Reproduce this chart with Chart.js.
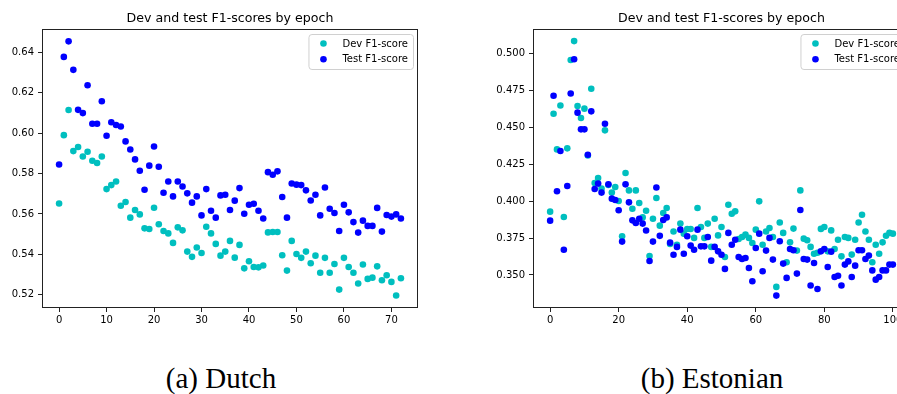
<!DOCTYPE html>
<html>
<head>
<meta charset="utf-8">
<script src="https://cdn.jsdelivr.net/npm/chart.js@4.4.1/dist/chart.umd.min.js"></script>
<style>
html, body { margin: 0; padding: 0; width: 897px; height: 394px; overflow: hidden; background: #fff; }
#c1 { position: absolute; left: 0; top: 0; }
#c2 { position: absolute; left: 490px; top: 0; }
.cap { position: absolute; font-family: "Liberation Serif", "DejaVu Serif", serif; font-size: 29px; line-height: 29px; color: #000; white-space: nowrap; transform: translateX(-50%); }
</style>
</head>
<body>
<canvas id="c1" width="430" height="330" style="width:430px;height:330px"></canvas>
<canvas id="c2" width="440" height="330" style="width:440px;height:330px"></canvas>
<div class="cap" style="left:221px; top:364px;">(a) Dutch</div>
<div class="cap" style="left:712px; top:364px;">(b) Estonian</div>
<script>
// ---------------- DATA ----------------
const chartTitle = "Dev and test F1-scores by epoch";
const devLabel = "Dev F1-score";
const testLabel = "Test F1-score";

// Dutch
const dutchEpochs = [0,1,2,3,4,5,6,7,8,9,10,11,12,13,14,15,16,17,18,19,20,21,22,23,24,25,26,27,28,29,30,31,32,33,34,35,36,37,38,39,40,41,42,43,44,45,46,47,48,49,50,51,52,53,54,55,56,57,58,59,60,61,62,63,64,65,66,67,68,69,70,71,72];
const dutchDev = [0.5652,0.5990,0.6114,0.5911,0.5931,0.5884,0.5908,0.5863,0.5852,0.5884,
  0.5723,0.5743,0.5761,0.5641,0.5659,0.5582,0.5620,0.5598,0.5529,0.5526,
  0.5631,0.5549,0.5516,0.5504,0.5457,0.5534,0.5519,0.5414,0.5388,0.5434,
  0.5407,0.5537,0.5504,0.5452,0.5394,0.5414,0.5467,0.5384,0.5447,0.5331,
  0.5366,0.5338,0.5336,0.5345,0.5509,0.5511,0.5511,0.5396,0.5320,0.5467,
  0.5402,0.5383,0.5414,0.5356,0.5394,0.5309,0.5383,0.5309,0.5353,0.5226,
  0.5383,0.5338,0.5309,0.5256,0.5350,0.5279,0.5285,0.5341,0.5272,0.5297,
  0.5264,0.5197,0.5282];
const dutchTest = [0.5845,0.6377,0.6454,0.6313,0.6115,0.6099,0.6237,0.6046,0.6046,0.6158,
  0.5987,0.6054,0.6040,0.6033,0.5959,0.5919,0.5870,0.5814,0.5720,0.5839,
  0.5934,0.5834,0.5705,0.5761,0.5687,0.5761,0.5736,0.5702,0.5656,0.5687,
  0.5593,0.5723,0.5616,0.5582,0.5692,0.5695,0.5620,0.5666,0.5728,0.5601,
  0.5646,0.5651,0.5616,0.5578,0.5807,0.5794,0.5811,0.5684,0.5582,0.5751,
  0.5745,0.5743,0.5717,0.5667,0.5695,0.5593,0.5731,0.5626,0.5605,0.5516,
  0.5646,0.5608,0.5560,0.5508,0.5567,0.5541,0.5541,0.5630,0.5513,0.5595,
  0.5587,0.5598,0.5578];
const dutchXTicks = [0,10,20,30,40,50,60,70];
const dutchYTicks = [0.52,0.54,0.56,0.58,0.60,0.62,0.64];

// Estonian
const estEpochs = [0,1,2,3,4,5,6,7,8,9,10,11,12,13,14,15,16,17,18,19,20,21,22,23,24,25,26,27,28,29,30,31,32,33,34,35,36,37,38,39,40,41,42,43,44,45,46,47,48,49,50,51,52,53,54,55,56,57,58,59,60,61,62,63,64,65,66,67,68,69,70,71,72,73,74,75,76,77,78,79,80,81,82,83,84,85,86,87,88,89,90,91,92,93,94,95,96,97,98,99,100];
const estDev = [0.3929,0.4593,0.4351,0.4649,0.3893,0.4358,0.4957,0.5085,0.4645,0.4564,
  0.4627,0.4310,0.4762,0.4123,0.4157,0.4085,0.4480,0.4110,0.4058,0.4096,
  0.4001,0.3762,0.4191,0.4073,0.3949,0.4073,0.3988,0.3890,0.3935,0.3628,
  0.3881,0.4022,0.3834,0.3920,0.3954,0.3710,0.3795,0.3705,0.3848,0.3780,
  0.3811,0.3811,0.3751,0.3954,0.3825,0.3751,0.3848,0.3690,0.3881,0.3768,
  0.3825,0.3622,0.3976,0.3915,0.3931,0.3744,0.3757,0.3773,0.3751,0.3717,
  0.3807,0.3999,0.3705,0.3795,0.3818,0.3757,0.3419,0.3856,0.3785,0.3586,
  0.3721,0.3814,0.3665,0.4073,0.3746,0.3735,0.3690,0.3644,0.3650,0.3812,
  0.3825,0.3660,0.3802,0.3676,0.3739,0.3626,0.3757,0.3751,0.3638,0.3739,
  0.3856,0.3908,0.3795,0.3739,0.3586,0.3705,0.3644,0.3721,0.3766,0.3785,
  0.3780];
const estTest = [0.3868,0.4715,0.4067,0.4340,0.3671,0.4103,0.4730,0.4962,0.4600,0.4487,
  0.4487,0.4315,0.4609,0.4083,0.4119,0.4058,0.4525,0.4114,0.4017,0.4008,
  0.3939,0.3726,0.4114,0.3992,0.3870,0.3852,0.3881,0.3848,0.3801,0.3595,
  0.3726,0.4093,0.3765,0.3872,0.3890,0.3719,0.3637,0.3690,0.3807,0.3644,
  0.3762,0.3699,0.3671,0.3807,0.3694,0.3694,0.3757,0.3597,0.3690,0.3660,
  0.3637,0.3541,0.3785,0.3705,0.3739,0.3622,0.3608,0.3615,0.3547,0.3457,
  0.3683,0.3780,0.3525,0.3665,0.3751,0.3604,0.3360,0.3728,0.3577,0.3480,
  0.3676,0.3667,0.3509,0.3940,0.3608,0.3604,0.3428,0.3581,0.3405,0.3660,
  0.3676,0.3554,0.3658,0.3486,0.3495,0.3428,0.3570,0.3592,0.3486,0.3563,
  0.3667,0.3667,0.3608,0.3631,0.3531,0.3468,0.3486,0.3531,0.3531,0.3570,
  0.3570];
const estXTicks = [0,20,40,60,80,100];
const estYTicks = [0.350,0.375,0.400,0.425,0.450,0.475,0.500];

// ---------------- STYLE ----------------
const devColor = "#00bfbf";
const testColor = "#0000ff";
const axisColor = "#222";
const FONT = '"DejaVu Sans", sans-serif';

const boxPlugin = {
  id: "mplBox",
  afterDraw(chart) {
    const { ctx, chartArea: a } = chart;
    ctx.save();
    // spines
    ctx.strokeStyle = axisColor;
    ctx.lineWidth = 1;
    ctx.strokeRect(Math.round(a.left) + 0.5, Math.round(a.top) + 0.5,
      Math.round(a.right) - Math.round(a.left) - 1, Math.round(a.bottom) - Math.round(a.top) - 1);
    // title
    ctx.fillStyle = "#000";
    ctx.font = "12.6px " + FONT;
    ctx.textAlign = "center";
    ctx.textBaseline = "alphabetic";
    ctx.fillText(chartTitle, (a.left + a.right) / 2, a.top - 7.5);
    // legend
    ctx.font = "10px " + FONT;
    const items = [{ t: devLabel, c: devColor }, { t: testLabel, c: testColor }];
    const tw = Math.max(...items.map(i => ctx.measureText(i.t).width));
    const bw = 34 + tw + 5, bh = 35;
    const x0 = a.right - 5 - bw, y0 = a.top + 5;
    ctx.beginPath();
    if (ctx.roundRect) ctx.roundRect(x0 + 0.5, y0 + 0.5, bw, bh, 3); else ctx.rect(x0 + 0.5, y0 + 0.5, bw, bh);
    ctx.fillStyle = "rgba(255,255,255,0.8)";
    ctx.fill();
    ctx.strokeStyle = "#d0d0d0";
    ctx.lineWidth = 1;
    ctx.stroke();
    ctx.textAlign = "left";
    ctx.textBaseline = "middle";
    items.forEach((it, k) => {
      const yy = y0 + 9.5 + k * 15.7;
      ctx.beginPath();
      ctx.arc(x0 + 15, yy, 3.3, 0, Math.PI * 2);
      ctx.fillStyle = it.c;
      ctx.fill();
      ctx.fillStyle = "#000";
      ctx.fillText(it.t, x0 + 34, yy + 0.5);
    });
    ctx.restore();
  }
};

function makeChart(id, epochs, dev, test, xTicks, yTicks, xMin, xMax, yMin, yMax, decimals, yAxisW, padRight) {
  const toPts = (vals) => vals.map((v, i) => ({ x: epochs[i], y: v }));
  return new Chart(document.getElementById(id), {
    type: "scatter",
    data: {
      datasets: [
        { label: devLabel, data: toPts(dev), backgroundColor: devColor, borderColor: devColor,
          pointRadius: 3.3, pointBorderWidth: 0, pointHoverRadius: 3.3, order: 2 },
        { label: testLabel, data: toPts(test), backgroundColor: testColor, borderColor: testColor,
          pointRadius: 3.3, pointBorderWidth: 0, pointHoverRadius: 3.3, order: 1 }
      ]
    },
    options: {
      responsive: false,
      animation: false,
      events: [],
      devicePixelRatio: 1,
      layout: { padding: { top: 29, right: padRight, left: 0, bottom: 0 } },
      plugins: { legend: { display: false }, tooltip: { enabled: false }, title: { display: false } },
      scales: {
        x: {
          type: "linear", min: xMin, max: xMax,
          afterBuildTicks: (s) => { s.ticks = xTicks.map(v => ({ value: v })); },
          afterFit: (s) => { s.height = 22; },
          border: { display: false },
          grid: { display: true, drawOnChartArea: false, drawTicks: true, tickLength: 4, color: axisColor, lineWidth: 1 },
          ticks: { color: "#000", font: { family: FONT, size: 10 }, padding: 2, maxRotation: 0, autoSkip: false,
                   callback: (v) => String(v) }
        },
        y: {
          type: "linear", min: yMin, max: yMax,
          afterBuildTicks: (s) => { s.ticks = yTicks.map(v => ({ value: v })); },
          afterFit: (s) => { s.width = yAxisW; },
          border: { display: false },
          grid: { display: true, drawOnChartArea: false, drawTicks: true, tickLength: 4, color: axisColor, lineWidth: 1 },
          ticks: { color: "#000", font: { family: FONT, size: 10 }, padding: 4, autoSkip: false,
                   callback: (v) => Number(v).toFixed(decimals) }
        }
      }
    },
    plugins: [boxPlugin]
  });
}

makeChart("c1", dutchEpochs, dutchDev, dutchTest, dutchXTicks, dutchYTicks, -3.6, 75.6, 0.5135, 0.6515, 2, 42, 12);
makeChart("c2", estEpochs, estDev, estTest, estXTicks, estYTicks, -5, 105, 0.3276, 0.5167, 3, 43, 20);
</script>
</body>
</html>
